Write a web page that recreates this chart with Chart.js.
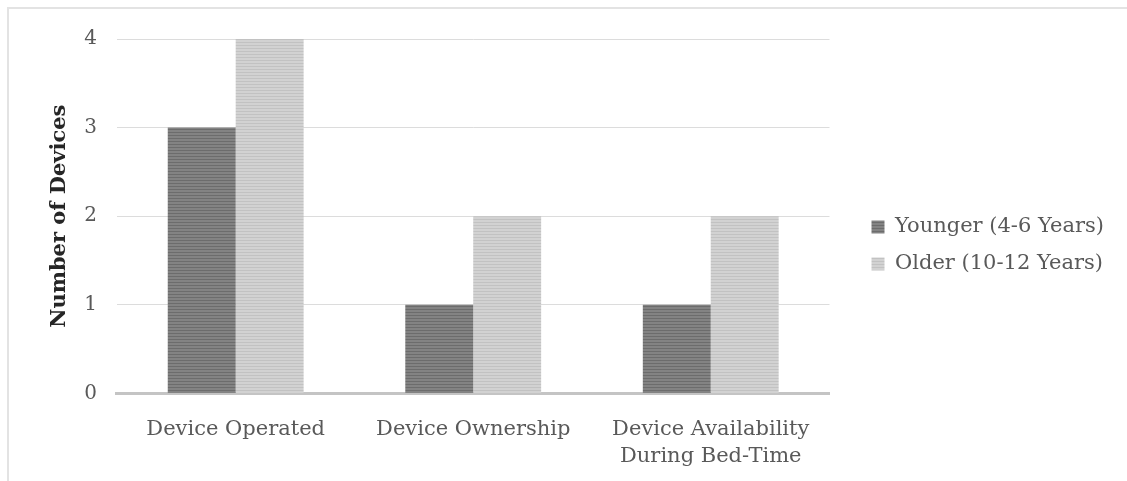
<!DOCTYPE html>
<html>
<head>
<meta charset="utf-8">
<script src="https://cdn.jsdelivr.net/npm/chart.js@4"></script>
<style>
    body { margin: 0; background: #fff; }
    #frame {
        position: absolute;
        left: 7px;
        top: 7px;
        width: 1120px;
        height: 474px;
        border-top: 2px solid #e3e3e3;
        border-left: 2px solid #e3e3e3;
        box-sizing: border-box;
    }
    #wrap { position: absolute; left: 0; top: 0; width: 1118px; height: 472px; }
</style>
</head>
<body>
<div id="frame"><div id="wrap"><canvas id="devicesChart"></canvas></div></div>
<script>
const categories = ['Device Operated', 'Device Ownership', ['Device Availability', 'During Bed-Time']];
const younger = [3, 1, 1];
const older = [4, 2, 2];
const yTicks = [0, 1, 2, 3, 4];

// striped fill like the scanned bars
function stripes(base, line) {
    const c = document.createElement('canvas');
    c.width = 4;
    c.height = 3;
    const ctx = c.getContext('2d');
    ctx.fillStyle = base;
    ctx.fillRect(0, 0, 4, 3);
    ctx.fillStyle = line;
    ctx.fillRect(0, 0, 4, 1);
    return ctx.createPattern(c, 'repeat');
}

const serif = "'DejaVu Serif', 'Liberation Serif', serif";
const legendExtra = 27;
const legendShift = 26;

// widen the legend box and push its items right, so the plot leaves a gap before it
const legendSpacer = {
    id: 'legendSpacer',
    beforeInit(chart) {
        const fit = chart.legend.fit;
        chart.legend.fit = function () {
            fit.call(this);
            this.width += legendExtra;
        };
    },
    afterLayout(chart) {
        chart.legend.left += legendShift;
        chart.legend.top -= 14;
        chart.legend.bottom -= 14;
    }
};

new Chart(document.getElementById('devicesChart'), {
    type: 'bar',
    data: {
        labels: categories,
        datasets: [{
            label: 'Younger (4-6 Years)',
            data: younger,
            backgroundColor: stripes('#838383', '#6c6c6c'),
            borderWidth: 0
        }, {
            label: 'Older (10-12 Years)',
            data: older,
            backgroundColor: stripes('#d2d2d2', '#c2c2c2'),
            borderWidth: 0
        }]
    },
    options: {
        responsive: true,
        maintainAspectRatio: false,
        animation: false,
        layout: { padding: { left: 36, right: 12, top: 26, bottom: -3 } },
        datasets: {
            bar: { categoryPercentage: 0.572, barPercentage: 1.0 }
        },
        scales: {
            x: {
                grid: { display: false },
                border: { color: '#c4c4c4', width: 3 },
                ticks: {
                    color: '#595959',
                    font: { family: serif, size: 21, lineHeight: 1.3 },
                    padding: 14,
                    maxRotation: 0
                }
            },
            y: {
                min: 0,
                max: 4,
                afterBuildTicks: axis => { axis.ticks = yTicks.map(v => ({ value: v })); },
                grid: { color: '#dcdcdc', lineWidth: 1, drawTicks: false },
                border: { display: false },
                ticks: {
                    color: '#595959',
                    font: { family: serif, size: 20, lineHeight: 1 },
                    padding: 20
                },
                title: {
                    display: true,
                    text: 'Number of Devices',
                    color: '#262626',
                    font: { family: serif, size: 21, weight: 'bold' },
                    padding: { top: 2, bottom: -8 }
                }
            }
        },
        plugins: {
            legend: {
                position: 'right',
                labels: {
                    color: '#595959',
                    font: { family: serif, size: 21 },
                    boxWidth: 13,
                    boxHeight: 13,
                    padding: 16
                }
            },
            tooltip: { enabled: false }
        }
    },
    plugins: [legendSpacer]
});
</script>
</body>
</html>
